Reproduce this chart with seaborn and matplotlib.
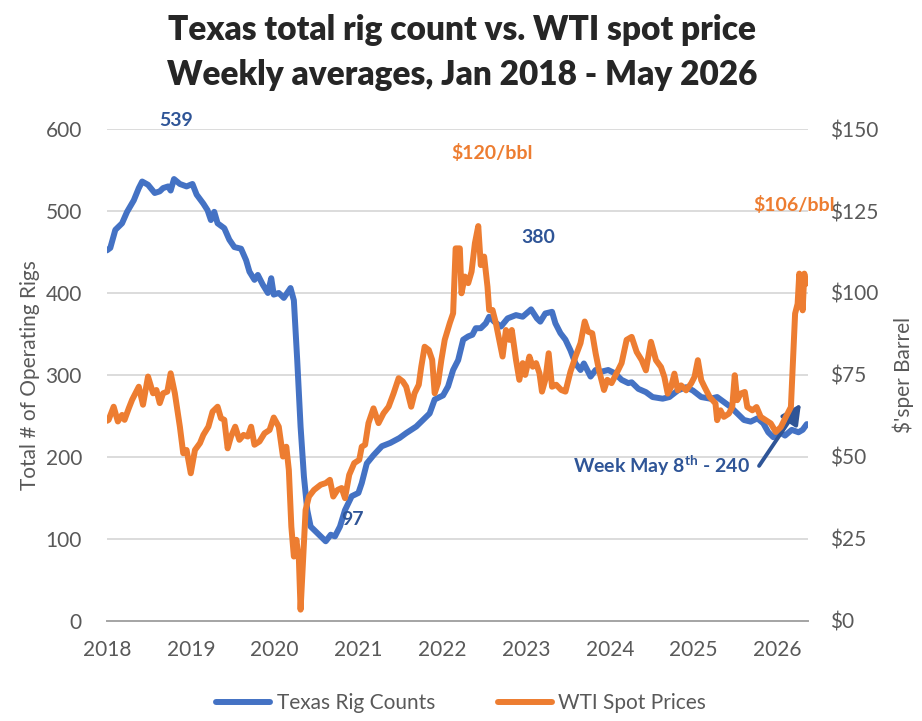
"""Texas rig count vs WTI spot price, weekly averages 2018-2026."""
import matplotlib

matplotlib.use("Agg")
import matplotlib.pyplot as plt  # noqa: E402
import seaborn as sns  # noqa: E402

sns.set_theme(style="white")
plt.rcParams["font.family"] = ["Lato", "DejaVu Sans"]
plt.rcParams["mathtext.fontset"] = "custom"
plt.rcParams["mathtext.rm"] = "Lato"
plt.rcParams["mathtext.bf"] = "Lato:bold"

# ---------------------------------------------------------------------------
# data (decimal years)
# ---------------------------------------------------------------------------
rig_dates = [
    2018.00, 2018.04, 2018.10, 2018.18, 2018.24, 2018.32, 2018.38, 2018.42, 2018.49,
    2018.57, 2018.63, 2018.67, 2018.73, 2018.76, 2018.80, 2018.87, 2018.95, 2019.02,
    2019.07, 2019.15, 2019.20, 2019.24, 2019.28, 2019.32, 2019.40, 2019.46, 2019.52,
    2019.60, 2019.66, 2019.70, 2019.76, 2019.80, 2019.86, 2019.92, 2019.96, 2019.99,
    2020.05, 2020.11, 2020.19, 2020.23, 2020.27, 2020.31, 2020.35, 2020.39, 2020.43,
    2020.51, 2020.61, 2020.67, 2020.72, 2020.78, 2020.84, 2020.92, 2021.00, 2021.04,
    2021.10, 2021.18, 2021.28, 2021.38, 2021.49, 2021.57, 2021.69, 2021.79, 2021.85,
    2021.91, 2022.01, 2022.07, 2022.13, 2022.19, 2022.25, 2022.31, 2022.36, 2022.40,
    2022.46, 2022.52, 2022.56, 2022.62, 2022.70, 2022.78, 2022.88, 2022.96, 2023.06,
    2023.13, 2023.17, 2023.23, 2023.31, 2023.35, 2023.41, 2023.47, 2023.53, 2023.59,
    2023.65, 2023.69, 2023.77, 2023.83, 2023.90, 2023.98, 2024.06, 2024.14, 2024.22,
    2024.26, 2024.34, 2024.43, 2024.51, 2024.63, 2024.71, 2024.81, 2024.91, 2024.99,
    2025.09, 2025.20, 2025.28, 2025.36, 2025.44, 2025.52, 2025.60, 2025.68, 2025.76,
    2025.83, 2025.89, 2025.95, 2026.03, 2026.09, 2026.17, 2026.25, 2026.30, 2026.35,
]
rig_counts = [
    452, 455, 477, 485, 499, 513, 528, 536, 532,
    522, 524, 528, 530, 525, 539, 533, 530, 533,
    520, 509, 501, 489, 499, 485, 479, 465, 456,
    454, 440, 426, 416, 422, 410, 400, 418, 398,
    400, 394, 406, 391, 318, 237, 176, 135, 115,
    107, 97, 105, 103, 115, 135, 152, 156, 168,
    192, 202, 213, 217, 223, 229, 237, 247, 253,
    270, 275, 286, 306, 318, 343, 347, 349, 357,
    357, 363, 371, 365, 359, 369, 373, 371, 380,
    369, 365, 375, 377, 363, 351, 343, 330, 314,
    306, 314, 298, 306, 304, 306, 302, 294, 290,
    291, 283, 279, 273, 271, 273, 281, 285, 281,
    273, 271, 273, 267, 261, 253, 245, 243, 247,
    241, 230, 224, 230, 226, 233, 230, 233, 240,
]

wti_dates = [
    2018.00, 2018.02, 2018.08, 2018.13, 2018.18, 2018.21, 2018.26, 2018.30, 2018.34,
    2018.38, 2018.43, 2018.49, 2018.55, 2018.59, 2018.63, 2018.67, 2018.72, 2018.76,
    2018.81, 2018.87, 2018.91, 2018.95, 2019.00, 2019.05, 2019.11, 2019.15, 2019.21,
    2019.26, 2019.32, 2019.36, 2019.40, 2019.44, 2019.48, 2019.53, 2019.58, 2019.63,
    2019.68, 2019.72, 2019.76, 2019.82, 2019.88, 2019.94, 2019.99, 2020.05, 2020.10,
    2020.14, 2020.17, 2020.20, 2020.23, 2020.26, 2020.29, 2020.31, 2020.34, 2020.37,
    2020.41, 2020.47, 2020.55, 2020.61, 2020.66, 2020.70, 2020.75, 2020.80, 2020.84,
    2020.89, 2020.95, 2021.01, 2021.04, 2021.08, 2021.12, 2021.18, 2021.24, 2021.30,
    2021.36, 2021.42, 2021.48, 2021.53, 2021.57, 2021.63, 2021.67, 2021.72, 2021.75,
    2021.79, 2021.84, 2021.88, 2021.91, 2021.95, 2021.99, 2022.03, 2022.09, 2022.13,
    2022.16, 2022.21, 2022.23, 2022.27, 2022.31, 2022.35, 2022.39, 2022.43, 2022.46,
    2022.50, 2022.54, 2022.56, 2022.60, 2022.64, 2022.68, 2022.72, 2022.76, 2022.80,
    2022.83, 2022.88, 2022.92, 2022.96, 2022.99, 2023.04, 2023.08, 2023.12, 2023.16,
    2023.19, 2023.23, 2023.27, 2023.31, 2023.36, 2023.42, 2023.47, 2023.53, 2023.59,
    2023.65, 2023.70, 2023.74, 2023.79, 2023.83, 2023.87, 2023.93, 2023.97, 2024.02,
    2024.08, 2024.14, 2024.20, 2024.26, 2024.32, 2024.38, 2024.43, 2024.49, 2024.55,
    2024.61, 2024.65, 2024.69, 2024.73, 2024.77, 2024.81, 2024.85, 2024.91, 2024.97,
    2025.01, 2025.05, 2025.09, 2025.13, 2025.19, 2025.26, 2025.28, 2025.32, 2025.36,
    2025.42, 2025.46, 2025.49, 2025.52, 2025.56, 2025.61, 2025.64, 2025.70, 2025.75,
    2025.80, 2025.86, 2025.92, 2025.98, 2026.04, 2026.10, 2026.16, 2026.19, 2026.21,
    2026.24, 2026.26, 2026.28, 2026.30, 2026.32, 2026.34,
]
wti_prices = [
    61.0, 61.3, 65.3, 60.8, 62.8, 61.3, 64.8, 67.4, 69.4,
    71.4, 65.9, 74.5, 69.4, 70.4, 66.4, 69.4, 69.9, 75.5,
    69.4, 59.2, 51.1, 52.1, 45.0, 52.1, 54.2, 56.7, 59.2,
    63.8, 65.3, 61.8, 61.3, 52.6, 56.2, 59.2, 55.2, 56.7,
    56.2, 59.2, 53.7, 54.7, 57.2, 58.2, 62.0, 59.2, 50.1,
    53.1, 46.0, 28.7, 19.6, 24.7, 18.6, 3.4, 18.6, 33.8,
    37.9, 39.9, 41.5, 42.0, 43.0, 37.9, 39.9, 40.5, 37.4,
    44.5, 48.1, 49.1, 53.1, 53.7, 60.3, 64.8, 60.3, 63.3,
    65.3, 69.4, 74.0, 73.0, 71.4, 65.3, 69.4, 72.0, 77.5,
    83.6, 82.6, 79.6, 69.4, 72.5, 79.6, 85.7, 90.8, 93.8,
    113.6, 113.6, 99.9, 105.0, 103.0, 106.5, 115.2, 120.4, 108.5,
    111.1, 101.9, 94.8, 94.8, 90.8, 85.7, 80.6, 88.7, 85.7,
    88.7, 79.6, 73.5, 78.6, 75.0, 80.6, 77.5, 78.6, 75.5,
    69.9, 73.5, 81.6, 71.4, 72.0, 70.4, 69.9, 76.0, 80.6,
    84.7, 91.3, 88.2, 87.7, 81.6, 76.5, 70.4, 73.5, 72.5,
    75.5, 78.6, 85.7, 86.6, 82.0, 79.5, 76.4, 85.1, 79.5,
    77.4, 74.4, 69.3, 71.3, 75.4, 70.3, 71.8, 70.3, 72.4,
    74.4, 79.5, 73.4, 71.3, 68.3, 66.3, 61.2, 64.2, 62.2,
    63.2, 65.2, 74.9, 67.3, 69.3, 69.8, 65.2, 64.2, 65.2,
    62.2, 61.2, 60.2, 57.6, 59.1, 62.2, 65.2, 82.5, 93.7,
    96.7, 105.9, 101.8, 94.7, 105.9, 102.8,
]

year_ticks = list(range(2018, 2027))
rig_ticks = [0, 100, 200, 300, 400, 500, 600]
price_ticks = [0, 25, 50, 75, 100, 125, 150]

BLUE = "#4472C4"
ORANGE = "#ED7D31"
DARK_BLUE = "#2F5597"
GREY = "#595959"

# ---------------------------------------------------------------------------
# figure
# ---------------------------------------------------------------------------
fig = plt.figure(figsize=(9.22, 7.21), dpi=100)
ax = fig.add_axes([0.116, 0.139, 0.760, 0.682])
ax2 = ax.twinx()

sns.lineplot(x=rig_dates, y=rig_counts, ax=ax, color=BLUE, linewidth=4.3,
             sort=False, label="Texas Rig Counts", legend=False)
sns.lineplot(x=wti_dates, y=wti_prices, ax=ax2, color=ORANGE, linewidth=4.3,
             sort=False, label="WTI Spot Prices", legend=False)

ax.set_xlim(2018, 2026.36)
ax.set_ylim(0, 600)
ax2.set_ylim(0, 150)

ax.set_xticks(year_ticks)
ax.set_xticklabels([str(y) for y in year_ticks])
ax.set_yticks(rig_ticks)
ax.set_yticklabels([str(v) for v in rig_ticks])
ax2.set_yticks(price_ticks)
ax2.set_yticklabels([f"${v}" for v in price_ticks])

ax.grid(axis="y", color="#D9D9D9", linewidth=1.3)
ax.grid(axis="x", visible=False)
ax2.grid(False)
for a in (ax, ax2):
    for side in ("left", "right", "top"):
        a.spines[side].set_visible(False)
    a.spines["bottom"].set_color("#A6A6A6")
    a.spines["bottom"].set_linewidth(1.3)

ax.tick_params(axis="x", direction="out", length=6, width=1.3, color="#A6A6A6",
               labelsize=15, labelcolor=GREY, pad=8)
ax.tick_params(axis="y", length=0, labelsize=15, labelcolor=GREY, pad=18)
ax2.tick_params(axis="y", length=0, labelsize=15, labelcolor=GREY, pad=16)

ax.set_xlabel("")
ax.set_ylabel("Total # of Operating Rigs", fontsize=15, color=GREY, labelpad=4)
ax2.set_ylabel("$'sper Barrel", fontsize=15, color=GREY, labelpad=10)

# title
fig.text(0.501, 0.958, "Texas total rig count vs. WTI spot price",
         ha="center", va="center", fontsize=24, fontweight="heavy")
fig.text(0.501, 0.896, "Weekly averages, Jan 2018 - May 2026",
         ha="center", va="center", fontsize=24, fontweight="heavy")

# annotations
ax.text(2018.83, 611, "539", color=DARK_BLUE, fontsize=14, fontweight="bold",
        ha="center", va="center", clip_on=False)
ax.text(2023.15, 468, "380", color=DARK_BLUE, fontsize=14, fontweight="bold",
        ha="center", va="center")
ax.text(2020.93, 124, "97", color=DARK_BLUE, fontsize=14, fontweight="bold",
        ha="center", va="center")
ax.text(2023.56, 190, r"Week May 8$^{\mathbf{th}}$ - 240", color=DARK_BLUE,
        fontsize=14, fontweight="bold", ha="left", va="center")
ax2.text(2022.60, 142.7, "$120/bbl", color=ORANGE, fontsize=14, fontweight="bold",
         ha="center", va="center")
ax2.text(2026.2, 126.8, "$106/bbl", color=ORANGE, fontsize=14, fontweight="bold",
         ha="center", va="center", clip_on=False, zorder=5)
ax.annotate("", xy=(2026.28, 265), xytext=(2025.78, 189),
            arrowprops=dict(arrowstyle="-|>,head_length=1.0,head_width=0.5",
                            color=DARK_BLUE, lw=2.8, shrinkA=0, shrinkB=0),
            zorder=6)
ax2.set_zorder(ax.get_zorder() + 1)
ax.patch.set_visible(False)

# legend
h1, l1 = ax.get_legend_handles_labels()
h2, l2 = ax2.get_legend_handles_labels()
fig.legend(h1 + h2, l1 + l2, loc="center", bbox_to_anchor=(0.5, 0.025), ncol=2,
           frameon=False, fontsize=15, labelcolor=GREY, handlelength=2.6,
           columnspacing=3.0, handletextpad=0.3)

fig.savefig("out.png", dpi=100)
plt.close(fig)
